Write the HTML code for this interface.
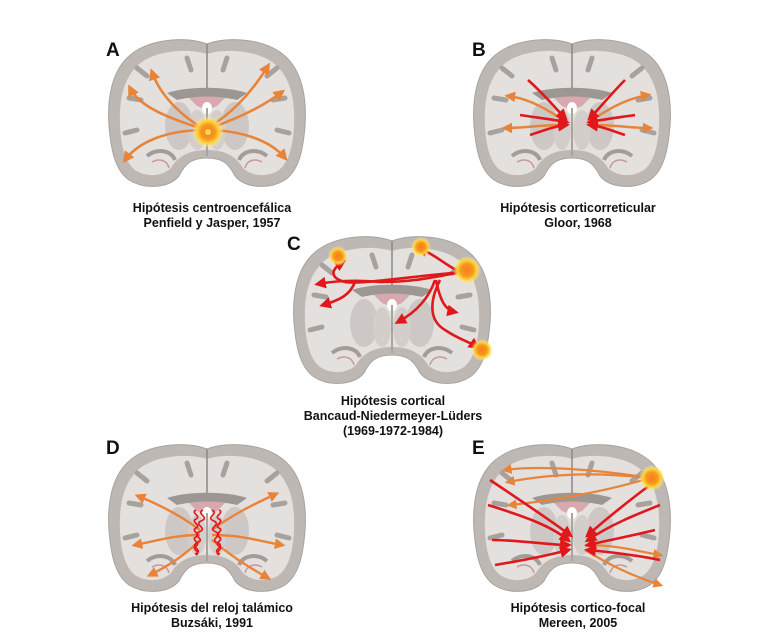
<!DOCTYPE html>
<html><head><meta charset="utf-8"><style>
body{margin:0;background:#fff;}
svg{display:block}
text{font-family:"Liberation Sans",Arial,sans-serif;font-weight:bold;fill:#111}
</style></head><body>
<svg width="776" height="642" viewBox="0 0 776 642" xmlns="http://www.w3.org/2000/svg">
<defs>
<marker id="mo" markerWidth="4.5" markerHeight="4.5" refX="3" refY="2.25" orient="auto" markerUnits="strokeWidth"><path d="M0,0 L4.5,2.25 L0,4.5 Z" fill="#e8843a"/></marker>
<marker id="mr" markerWidth="4.5" markerHeight="4.5" refX="3" refY="2.25" orient="auto" markerUnits="strokeWidth"><path d="M0,0 L4.5,2.25 L0,4.5 Z" fill="#e0181c"/></marker>
<radialGradient id="glow"><stop offset="0" stop-color="#ff7a1a"/><stop offset="0.45" stop-color="#f39a1f"/><stop offset="0.7" stop-color="#ffd23a"/><stop offset="1" stop-color="#fff59a" stop-opacity="0"/></radialGradient>
<g id="brain">
<path d="M100,6 C80,-2 40,0 20,20 C5,35 0,60 2,88 C4,112 8,132 22,142 C38,152 62,150 72,138 C78,126 84,120 100,120 C116,120 122,126 128,138 C138,150 162,152 178,142 C192,132 196,112 198,88 C200,60 195,35 180,20 C160,0 120,-2 100,6 Z" fill="#bdb8b4" stroke="#a8a39f" stroke-width="1"/>
<path d="M100,16 C82,10 46,12 30,28 C16,42 12,62 13,88 C14,108 18,124 28,132 C40,140 56,138 64,130 C70,120 80,112 100,112 C120,112 130,120 136,130 C144,138 160,140 172,132 C182,124 186,108 187,88 C188,62 184,42 170,28 C154,12 118,10 100,16 Z" fill="#e4e0dd"/>
<path d="M100,6 L100,60" stroke="#8e8985" stroke-width="1.5"/>
<path d="M30,30 L40,38 M22,60 L34,62 M18,95 L30,92 M170,30 L160,38 M178,60 L166,62 M182,95 L170,92 M80,20 L84,32 M120,20 L116,32" stroke="#a7a29e" stroke-width="5" stroke-linecap="round"/>
<path d="M60,55 C80,48 120,48 140,55 L130,62 C115,58 85,58 70,62 Z" fill="#9d9793"/>
<path d="M82,60 C92,58 108,58 118,60 L110,68 L100,72 L90,68 Z" fill="#d7a9ae"/>
<ellipse cx="100" cy="70" rx="5" ry="6" fill="#fff"/>
<ellipse cx="72" cy="88" rx="14" ry="24" fill="#cdc8c5"/>
<ellipse cx="128" cy="88" rx="14" ry="24" fill="#cdc8c5"/>
<ellipse cx="90" cy="92" rx="9" ry="20" fill="#d3ceca"/>
<ellipse cx="110" cy="92" rx="9" ry="20" fill="#d3ceca"/>
<path d="M100,70 L100,118" stroke="#a9a4a0" stroke-width="2"/>
<path d="M40,118 C50,110 64,112 68,122 M160,118 C150,110 136,112 132,122" stroke="#a39d99" stroke-width="4" fill="none"/>
<path d="M45,124 C52,120 60,122 62,130 M155,124 C148,120 140,122 138,130" stroke="#c49aa0" stroke-width="1.5" fill="none"/>
</g>
</defs>

<use href="#brain" x="107" y="38"/>
<use href="#brain" x="472" y="38"/>
<use href="#brain" x="292" y="235"/>
<use href="#brain" x="107" y="443"/>
<use href="#brain" x="472" y="443"/>

<g font-size="19"><text x="106" y="56">A</text><text x="472" y="56">B</text><text x="287" y="250">C</text><text x="106" y="454">D</text><text x="472" y="454">E</text></g>

<!-- A -->
<g fill="none" stroke="#e8843a" stroke-width="2.6" marker-end="url(#mo)">
<path d="M205,130 C180,115 160,95 152,72"/>
<path d="M205,130 C170,118 140,108 130,88"/>
<path d="M205,130 C230,115 250,95 268,66"/>
<path d="M205,130 C240,118 265,105 282,92"/>
<path d="M205,130 C170,130 140,140 125,160"/>
<path d="M205,130 C240,130 270,140 285,158"/>
</g>
<circle cx="208" cy="132" r="16" fill="url(#glow)"/>
<circle cx="208" cy="132" r="3" fill="#ffd45a"/>

<!-- B -->
<g fill="none" stroke="#e8843a" stroke-width="2.4" marker-end="url(#mo)">
<path d="M560,118 C540,105 525,98 508,96"/>
<path d="M560,125 C540,125 525,128 505,128"/>
<path d="M595,118 C615,105 630,98 648,95"/>
<path d="M595,125 C615,125 630,128 650,128"/>
</g>
<g fill="none" stroke="#e0181c" stroke-width="2.6" marker-end="url(#mr)">
<path d="M528,80 C545,95 555,108 565,118"/>
<path d="M520,115 C540,118 555,120 566,122"/>
<path d="M530,135 C545,130 556,126 566,125"/>
<path d="M625,80 C610,95 600,108 590,118"/>
<path d="M635,115 C615,118 600,120 590,122"/>
<path d="M625,135 C610,130 600,126 590,125"/>
</g>

<!-- C -->
<g fill="none" stroke="#e0181c" stroke-width="2.6" marker-end="url(#mr)">
<path d="M465,272 C420,275 360,285 345,282 C330,278 330,270 343,262"/>
<path d="M465,272 C440,275 420,282 380,282 C360,280 340,280 318,284"/>
<path d="M355,282 C350,295 340,300 323,305"/>
<path d="M435,280 C430,295 420,310 398,322"/>
<path d="M436,280 C440,300 445,310 455,312"/>
<path d="M440,280 C430,300 428,320 445,330 C460,340 470,342 477,347"/>
<path d="M460,272 C445,265 440,258 420,248"/>
</g>
<circle cx="338" cy="256" r="10" fill="url(#glow)"/>
<circle cx="421" cy="247" r="10" fill="url(#glow)"/>
<circle cx="467" cy="270" r="14" fill="url(#glow)"/>
<circle cx="482" cy="350" r="11" fill="url(#glow)"/>

<!-- D -->
<g fill="none" stroke="#e8843a" stroke-width="2.4" marker-end="url(#mo)">
<path d="M200,530 C180,515 160,505 138,496"/>
<path d="M200,535 C175,535 160,540 135,545"/>
<path d="M200,540 C185,555 170,565 150,575"/>
<path d="M212,530 C232,515 252,505 276,494"/>
<path d="M212,535 C240,535 255,540 282,545"/>
<path d="M212,540 C230,555 245,565 268,578"/>
</g>
<g fill="none" stroke="#e0181c" stroke-width="1.6">
<path d="M196,510 c-6,3 6,6 0,9 c-6,3 6,6 0,9 c-6,3 6,6 0,9 c-6,3 6,6 0,9 c-6,3 6,6 0,9"/>
<path d="M203,510 c-8,4 8,7 -2,11 c-8,4 8,7 -2,11 c-8,4 8,7 -2,11 c-8,4 8,7 -2,11"/>
<path d="M219,510 c6,3 -6,6 0,9 c6,3 -6,6 0,9 c6,3 -6,6 0,9 c6,3 -6,6 0,9 c6,3 -6,6 0,9"/>
<path d="M212,510 c8,4 -8,7 2,11 c8,4 -8,7 2,11 c8,4 -8,7 2,11 c8,4 -8,7 2,11"/>
</g>

<!-- E -->
<g fill="none" stroke="#e8843a" stroke-width="2.2" marker-end="url(#mo)">
<path d="M650,478 C600,470 540,465 505,470"/>
<path d="M650,478 C610,490 560,500 510,505"/>
<path d="M650,478 C620,475 570,470 508,482"/>
<path d="M585,545 C620,545 640,552 660,555"/>
<path d="M585,550 C610,565 630,575 660,585"/>
</g>
<g fill="none" stroke="#e0181c" stroke-width="2.6" marker-end="url(#mr)">
<path d="M490,480 C520,500 550,520 570,535"/>
<path d="M488,505 C520,515 550,525 568,540"/>
<path d="M492,540 C520,540 550,545 568,545"/>
<path d="M495,565 C525,560 550,555 568,550"/>
<path d="M650,485 C630,500 605,520 588,535"/>
<path d="M660,505 C635,515 610,525 588,540"/>
<path d="M655,530 C635,535 610,540 588,545"/>
<path d="M660,560 C635,555 610,552 588,550"/>
</g>
<circle cx="652" cy="478" r="13" fill="url(#glow)"/>

<g font-size="12.5" text-anchor="middle">
<text x="212" y="212">Hipótesis centroencefálica</text>
<text x="212" y="227">Penfield y Jasper, 1957</text>
<text x="578" y="212">Hipótesis corticorreticular</text>
<text x="578" y="227">Gloor, 1968</text>
<text x="393" y="405">Hipótesis cortical</text>
<text x="393" y="420">Bancaud-Niedermeyer-Lüders</text>
<text x="393" y="435">(1969-1972-1984)</text>
<text x="212" y="612">Hipótesis del reloj talámico</text>
<text x="212" y="627">Buzsáki, 1991</text>
<text x="578" y="612">Hipótesis cortico-focal</text>
<text x="578" y="627">Mereen, 2005</text>
</g>
</svg>
</body></html>
